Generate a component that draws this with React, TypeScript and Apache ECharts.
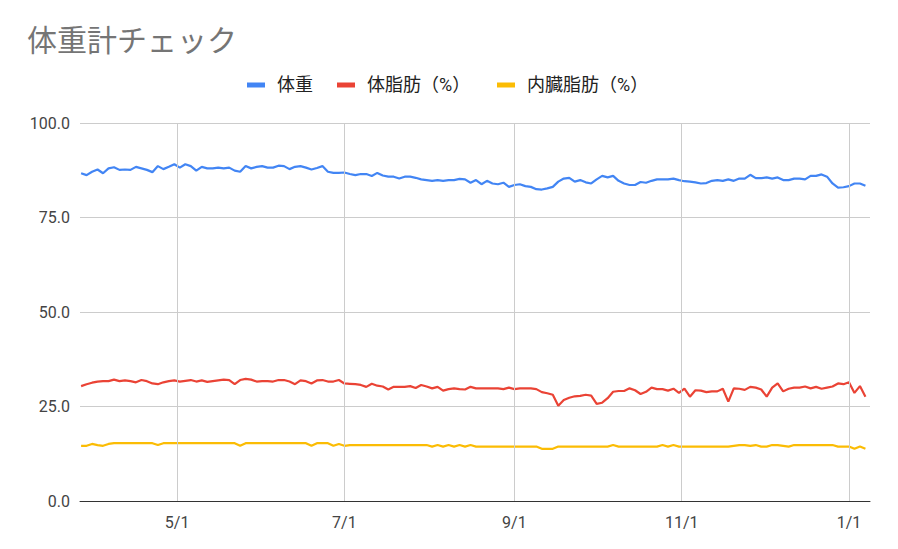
import React, { useEffect, useRef } from 'react';
import * as echarts from 'echarts';

// first measurement date (year, monthIndex, day) and spacing between readings
const startDate = [2022, 2, 27];
const stepDays = 2;

const seriesNames = ['体重', '体脂肪（%）', '内臓脂肪（%）'];

const weight = [
  86.7, 86.2, 87.1, 87.7, 86.7, 88.0, 88.3, 87.6, 87.7, 87.6,
  88.4, 88.0, 87.6, 87.0, 88.6, 87.8, 88.4, 89.1, 88.2, 89.1,
  88.6, 87.4, 88.4, 88.0, 88.0, 88.2, 88.0, 88.2, 87.4, 87.1,
  88.6, 88.0, 88.4, 88.6, 88.2,
  88.2, 88.7, 88.6, 87.8, 88.4, 88.6, 88.2, 87.7, 88.1, 88.6,
  87.1, 86.8, 86.8, 86.9, 86.5, 86.2, 86.5, 86.5, 86.0, 86.8,
  86.1, 85.8, 85.8, 85.3, 85.8, 85.8, 85.5, 85.1, 84.9, 84.7,
  84.9, 84.7, 84.9, 84.9, 85.2,
  85.1, 84.2, 84.9, 83.8, 84.7, 84.0, 83.8, 84.2, 83.1, 83.6,
  83.8, 83.3, 83.1, 82.5, 82.4, 82.7, 83.1, 84.5, 85.3, 85.5,
  84.5, 84.9, 84.3, 84.0, 85.1, 86.0, 85.6, 86.0, 84.7, 84.0,
  83.6, 83.6, 84.4, 84.2, 84.7, 85.1, 85.1,
  85.1, 85.3, 84.9, 84.6, 84.5, 84.3, 84.0, 84.1, 84.7, 84.9,
  84.7, 85.1, 84.7, 85.3, 85.3, 86.3, 85.4, 85.4, 85.6, 85.3,
  85.6, 84.9, 84.9, 85.3, 85.3, 85.1, 86.0, 86.0, 86.4, 85.8,
  84.0, 82.9, 83.0, 83.3, 84.0, 84.0, 83.4,
];

const bodyFat = [
  30.4, 30.9, 31.3, 31.6, 31.7, 31.7, 32.1, 31.7, 31.9, 31.7,
  31.4, 32.0, 31.7, 31.1, 30.9, 31.4, 31.7, 31.9, 31.6, 31.8,
  32.0, 31.6, 31.9, 31.5, 31.7, 31.9, 32.1, 32.0, 30.9, 32.0,
  32.3, 32.1, 31.6, 31.7, 31.7,
  31.6, 32.0, 32.0, 31.6, 30.9, 31.9, 31.7, 31.1, 31.9, 32.0,
  31.6, 31.6, 32.0, 31.1, 31.0, 30.9, 30.7, 30.2, 31.0, 30.5,
  30.3, 29.5, 30.2, 30.2, 30.2, 30.4, 29.9, 30.7, 30.3, 29.8,
  30.2, 29.2, 29.6, 29.8, 29.6,
  29.5, 30.2, 29.8, 29.8, 29.8, 29.8, 29.8, 29.6, 30.0, 29.6,
  29.8, 29.8, 29.8, 29.6, 28.8, 28.5, 28.1, 25.2, 26.7, 27.3,
  27.7, 27.8, 28.1, 27.9, 25.7, 26.0, 27.2, 28.9, 29.1, 29.1,
  29.8, 29.3, 28.3, 28.9, 30.0, 29.6, 29.6,
  29.2, 29.7, 28.6, 29.7, 27.6, 29.3, 29.2, 28.8, 29.0, 29.0,
  29.7, 26.3, 29.8, 29.7, 29.4, 30.2, 30.0, 29.5, 27.6, 30.0,
  31.1, 29.0, 29.7, 30.0, 30.0, 30.3, 29.8, 30.2, 29.7, 30.0,
  30.3, 31.1, 30.9, 31.4, 28.6, 30.4, 27.6,
];

const visceralFat = [
  14.6, 14.6, 15.1, 14.8, 14.6, 15.1, 15.3, 15.3, 15.3, 15.3,
  15.3, 15.3, 15.3, 15.3, 14.8, 15.3, 15.3, 15.3, 15.3, 15.3,
  15.3, 15.3, 15.3, 15.3, 15.3, 15.3, 15.3, 15.3, 15.3, 14.6,
  15.3, 15.3, 15.3, 15.3, 15.3,
  15.3, 15.3, 15.3, 15.3, 15.3, 15.3, 15.3, 14.6, 15.3, 15.3,
  15.3, 14.6, 15.1, 14.6, 14.8, 14.8, 14.8, 14.8, 14.8, 14.8,
  14.8, 14.8, 14.8, 14.8, 14.8, 14.8, 14.8, 14.8, 14.8, 14.4,
  14.8, 14.4, 14.8, 14.4, 14.8,
  14.4, 14.8, 14.4, 14.4, 14.4, 14.4, 14.4, 14.4, 14.4, 14.4,
  14.4, 14.4, 14.4, 14.4, 13.8, 13.8, 13.8, 14.4, 14.4, 14.4,
  14.4, 14.4, 14.4, 14.4, 14.4, 14.4, 14.4, 14.8, 14.4, 14.4,
  14.4, 14.4, 14.4, 14.4, 14.4, 14.4, 14.8,
  14.4, 14.8, 14.4, 14.4, 14.4, 14.4, 14.4, 14.4, 14.4, 14.4,
  14.4, 14.4, 14.6, 14.8, 14.8, 14.6, 14.8, 14.4, 14.4, 14.8,
  14.8, 14.6, 14.4, 14.8, 14.8, 14.8, 14.8, 14.8, 14.8, 14.8,
  14.8, 14.4, 14.4, 14.4, 13.8, 14.4, 13.8,
];

const tickLabels = ['5/1', '7/1', '9/1', '11/1', '1/1'];
const tickDates = [
  [2022, 4, 1],
  [2022, 6, 1],
  [2022, 8, 1],
  [2022, 10, 1],
  [2023, 0, 1],
];
const yTicks = [0, 25, 50, 75, 100];

const colors = ['#4285f4', '#ea4335', '#fbbc04'];
const FONT = 'Roboto, Arial, "Noto Sans CJK JP", sans-serif';

export default function App() {
  const ref = useRef<HTMLDivElement>(null);

  useEffect(() => {
    const chart = echarts.init(ref.current!, null, { renderer: 'svg' });
    const times = weight.map((_, i) =>
      new Date(startDate[0], startDate[1], startDate[2] + i * stepDays).getTime()
    );
    const tickTimes = tickDates.map((d) => new Date(d[0], d[1], d[2]).getTime());
    const xMin = new Date(2022, 2, 26, 14, 24).getTime();
    const xMax = new Date(2023, 0, 8, 16).getTime();
    const values = [weight, bodyFat, visceralFat];

    const labelFor = (v: number) => {
      let best = -1;
      let bestD = Infinity;
      tickTimes.forEach((t, i) => {
        const d = Math.abs(t - v);
        if (d < bestD) {
          bestD = d;
          best = i;
        }
      });
      return bestD < 86400000 ? tickLabels[best] : '';
    };

    const legendLefts = [247, 337, 497];

    chart.setOption({
      animation: false,
      backgroundColor: '#ffffff',
      textStyle: { fontFamily: FONT },
      title: {
        text: '体重計チェック',
        left: 27,
        top: 25,
        padding: 0,
        textStyle: {
          fontSize: 30,
          fontWeight: 'normal',
          color: '#757575',
          fontFamily: FONT,
        },
      },
      legend: seriesNames.map((name, i) => ({
        data: [name],
        left: legendLefts[i],
        top: 76,
        padding: 0,
        icon: 'rect',
        itemWidth: 18,
        itemHeight: 5,
        selectedMode: false,
        textStyle: {
          fontSize: 18,
          color: '#222222',
          padding: [0, 0, 0, 7],
          fontFamily: FONT,
        },
      })),
      grid: { left: 80, right: 28, top: 123, bottom: 48, containLabel: false },
      xAxis: {
        type: 'value',
        min: xMin,
        max: xMax,
        axisLine: { show: true, lineStyle: { color: '#333333', width: 1 } },
        axisTick: { show: false },
        splitLine: { show: false },
        axisLabel: {
          customValues: tickTimes,
          formatter: (v: number) => labelFor(v),
          color: '#444444',
          fontSize: 16,
          margin: 13,
          fontFamily: FONT,
        },
      },
      yAxis: {
        type: 'value',
        min: 0,
        max: 100,
        interval: 25,
        axisLine: { show: false },
        axisTick: { show: false },
        splitLine: { lineStyle: { color: '#cccccc', width: 1 } },
        axisLabel: {
          formatter: (v: number) => (yTicks.includes(v) ? v.toFixed(1) : ''),
          color: '#444444',
          fontSize: 16,
          margin: 10,
          fontFamily: FONT,
        },
      },
      series: [
        {
          name: 'grid-verticals',
          type: 'line',
          data: [],
          z: 1,
          silent: true,
          markLine: {
            silent: true,
            symbol: ['none', 'none'],
            label: { show: false },
            emphasis: { disabled: true },
            lineStyle: { color: '#cccccc', width: 1, type: 'solid' },
            data: tickTimes.map((t) => ({ xAxis: t })),
          },
        },
        ...seriesNames.map((name, si) => ({
          name,
          type: 'line',
          data: times.map((t, i) => [t, values[si][i]]),
          showSymbol: false,
          symbol: 'none',
          z: 3,
          color: colors[si],
          lineStyle: { color: colors[si], width: 2.2 },
          emphasis: { disabled: true },
        })),
      ],
    });

    return () => chart.dispose();
  }, []);

  return (
    <div
      ref={ref}
      style={{ position: 'fixed', left: 0, top: 0, width: 898, height: 549 }}
    />
  );
}
